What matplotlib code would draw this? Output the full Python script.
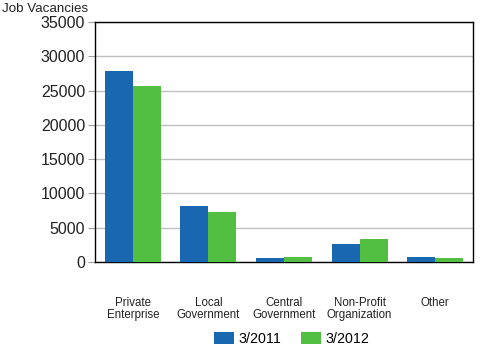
import numpy as np
import matplotlib.pyplot as plt

plt.rcParams['font.family'] = ['Liberation Sans', 'DejaVu Sans']

categories = ['Private\nEnterprise', 'Local\nGovernment', 'Central\nGovernment',
              'Non-Profit\nOrganization', 'Other']
v2011 = [27900, 8200, 600, 2600, 750]
v2012 = [25600, 7300, 700, 3350, 600]

fig = plt.figure(figsize=(5, 3.5), dpi=100)
ax = fig.add_axes([0.19, 0.2514, 0.756, 0.686])

x = np.arange(len(categories))
w = 0.37
ax.bar(x - w/2, v2011, w, color='#1967b0', label='3/2011', zorder=3)
ax.bar(x + w/2, v2012, w, color='#52be42', label='3/2012', zorder=3)

ax.set_xlim(-0.5, len(categories) - 0.5)
ax.set_ylim(0, 35000)
ax.set_yticks(np.arange(0, 35001, 5000))
ax.yaxis.grid(True, color='#c0c0c0', linewidth=1, zorder=0)
ax.tick_params(axis='y', labelsize=11.5, length=5, color='#a0a0a0', pad=2, labelcolor='#222222')
ax.set_xticks(x)
ax.set_xticklabels(categories, fontsize=8.3, color='#222222', linespacing=1.0)
ax.tick_params(axis='x', length=0, pad=25)
for s in ax.spines.values():
    s.set_color('black')
    s.set_linewidth(1)

fig.text(0.004, 0.958, 'Job Vacancies', fontsize=9.6, color='#222222', va='bottom')

ax.legend(loc='center', bbox_to_anchor=(0.52, -0.32), ncol=2, frameon=False,
          fontsize=10.3, handlelength=1.4, handleheight=0.9, columnspacing=1.4,
          handletextpad=0.3)

fig.savefig('out.png', dpi=100)
